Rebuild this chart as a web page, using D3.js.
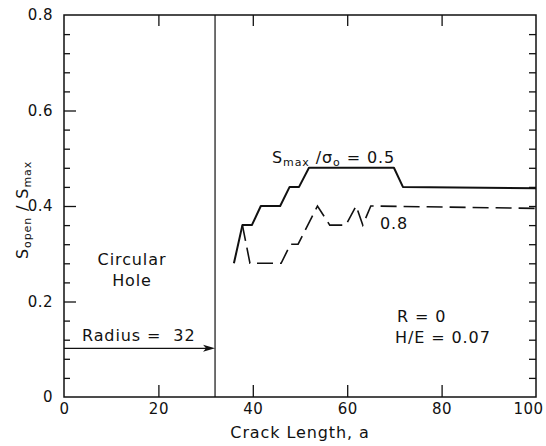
<!DOCTYPE html>
<html><head><meta charset="utf-8">
<script src="https://cdn.jsdelivr.net/npm/d3@7"></script>
<style>
html,body{margin:0;padding:0;background:#fff;}
svg text{font-family:"DejaVu Sans",sans-serif;fill:#111;}
</style></head>
<body><div id="chart"></div>
<script>
// Data
const xTicks = [0, 20, 40, 60, 80, 100];
const yTicks = [0, 0.2, 0.4, 0.6, 0.8];
const yMinorTicks = [0.04,0.08,0.12,0.16,0.24,0.28,0.32,0.36,0.44,0.48,0.52,0.56,0.64,0.68,0.72,0.76];
// S_max/sigma_o = 0.5 (solid)
const solidA = [36, 37.8, 39.8, 41.7, 45.8, 47.8, 49.8, 51.9, 69.9, 71.8, 100];
const solidS = [0.28, 0.36, 0.36, 0.40, 0.40, 0.44, 0.44, 0.48, 0.48, 0.44, 0.437];
// S_max/sigma_o = 0.8 (dashed)
const dashA = [37.8, 39.4, 46, 48, 49.6, 53.7, 56.3, 59.7, 61.9, 63.3, 65, 100];
const dashS = [0.36, 0.28, 0.28, 0.32, 0.32, 0.40, 0.36, 0.36, 0.40, 0.36, 0.40, 0.395];
const holeRadius = 32;

(function () {
const W = 546, H = 446;
const svg = d3.select("#chart").append("svg").attr("width", W).attr("height", H);
const x = d3.scaleLinear().domain([0, 100]).range([64, 536]);
const y = d3.scaleLinear().domain([0, 0.8]).range([397, 15]);
const ink = "#111";
const LS = "0.9px";

// frame
svg.append("rect").attr("x", x(0)).attr("y", y(0.8)).attr("width", x(100) - x(0)).attr("height", y(0) - y(0.8))
  .attr("fill", "none").attr("stroke", ink).attr("stroke-width", 1.5);

// bottom axis
const gBottom = svg.append("g").attr("transform", `translate(0,${y(0)})`)
  .call(d3.axisBottom(x).tickValues(xTicks).tickSize(-12).tickPadding(6).tickFormat(d3.format("d")));
gBottom.select(".domain").remove();
gBottom.selectAll(".tick line").filter(d => d === 0 || d === 100).remove();
gBottom.selectAll(".tick text").filter(d => d === 100).attr("dx", -8);
// top axis ticks
const gTop = svg.append("g").attr("transform", `translate(0,${y(0.8)})`)
  .call(d3.axisTop(x).tickValues([20, 40, 60, 80]).tickSize(-11).tickFormat(""));
gTop.select(".domain").remove();
// left axis
const gLeft = svg.append("g").attr("transform", `translate(${x(0)},0)`)
  .call(d3.axisLeft(y).tickValues(yTicks).tickSize(-12).tickPadding(11).tickFormat(d => d === 0 ? "0" : d3.format(".1f")(d)));
gLeft.select(".domain").remove();
gLeft.selectAll(".tick line").filter(d => d === 0 || d === 0.8).remove();
const gLeftMinor = svg.append("g").attr("transform", `translate(${x(0)},0)`)
  .call(d3.axisLeft(y).tickValues(yMinorTicks).tickSize(-6).tickFormat(""));
gLeftMinor.select(".domain").remove();
// right axis
const gRight = svg.append("g").attr("transform", `translate(${x(100)},0)`)
  .call(d3.axisRight(y).tickValues(yTicks.concat(yMinorTicks).filter(d => d > 0 && d < 0.8)).tickSize(-7).tickFormat(""));
gRight.select(".domain").remove();

svg.selectAll(".tick line").attr("stroke", ink).attr("stroke-width", 1.3);
svg.selectAll(".tick text").style("font-size", "15px").style("letter-spacing", "0.5px").attr("fill", ink);

// hole boundary
svg.append("line").attr("x1", x(holeRadius)).attr("x2", x(holeRadius)).attr("y1", y(0.8)).attr("y2", y(0))
  .attr("stroke", ink).attr("stroke-width", 1.2);

// radius arrow
const arrowY = y(0.102);
svg.append("line").attr("x1", x(0)).attr("x2", x(holeRadius) - 8).attr("y1", arrowY).attr("y2", arrowY)
  .attr("stroke", ink).attr("stroke-width", 1.2);
svg.append("path").attr("d", `M${x(holeRadius)},${arrowY} L${x(holeRadius) - 12},${arrowY - 3.5} L${x(holeRadius) - 9},${arrowY} L${x(holeRadius) - 12},${arrowY + 3.5} Z`)
  .attr("fill", ink);

// lines
const line = d3.line().x(d => x(d[0])).y(d => y(d[1]));
svg.append("path").datum(solidA.map((a, i) => [a, solidS[i]])).attr("d", line)
  .attr("fill", "none").attr("stroke", ink).attr("stroke-width", 2).attr("stroke-linejoin", "round");
svg.append("path").datum(dashA.map((a, i) => [a, dashS[i]])).attr("d", line)
  .attr("fill", "none").attr("stroke", ink).attr("stroke-width", 1.6).attr("stroke-dasharray", "16,7");

// text helpers
function txt(xp, yp, size, anchor) {
  return svg.append("text").attr("x", xp).attr("y", yp).style("font-size", size + "px")
    .style("letter-spacing", LS).attr("text-anchor", anchor || "start");
}
// axis titles
txt((x(0) + x(100)) / 2, 438, 16, "middle").text("Crack Length, a");
const yl = svg.append("text").attr("transform", `translate(28,210) rotate(-90)`).attr("text-anchor", "middle")
  .style("font-size", "16px").style("letter-spacing", LS);
yl.append("tspan").text("S");
yl.append("tspan").attr("dy", 3).style("font-size", "11px").text("open");
yl.append("tspan").attr("dy", -3).text(" / S");
yl.append("tspan").attr("dy", 3).style("font-size", "11px").text("max");

// annotations
const t1 = txt(272, 163, 16);
t1.append("tspan").text("S");
t1.append("tspan").attr("dy", 3).style("font-size", "11px").text("max");
t1.append("tspan").attr("dy", -3).text(" /σ");
t1.append("tspan").attr("dy", 3).style("font-size", "11px").text("o");
t1.append("tspan").attr("dy", -3).text(" = 0.5");
txt(380, 229, 16).text("0.8");
txt(132, 265, 16, "middle").text("Circular");
txt(132, 286, 16, "middle").text("Hole");
txt(82, 341, 16).text("Radius =\u00A0\u00A032");
txt(397, 322, 16).text("R = 0");
txt(395, 343, 16).text("H/E = 0.07");
})();
</script></body></html>
